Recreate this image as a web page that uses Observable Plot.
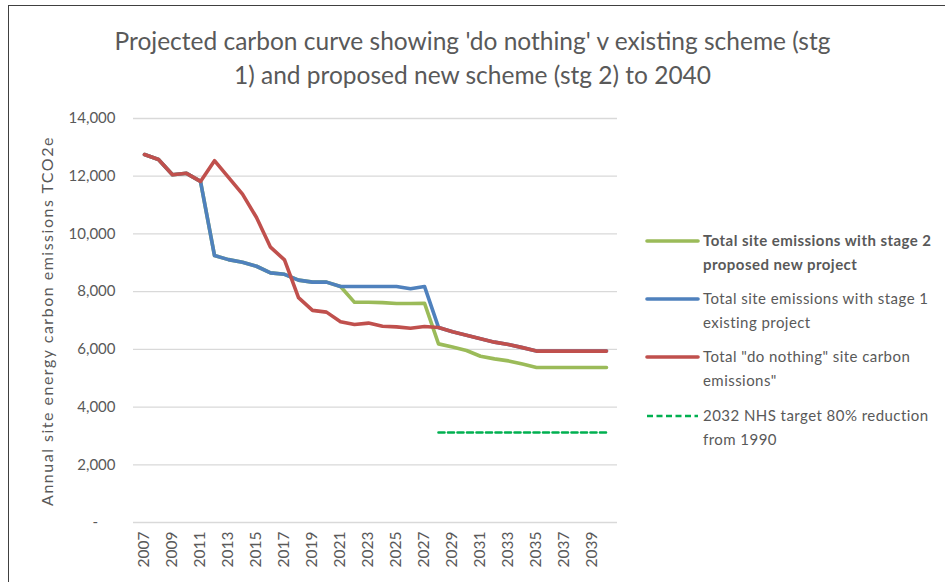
<!DOCTYPE html>
<html>
<head>
<meta charset="utf-8">
<script src="https://cdn.jsdelivr.net/npm/d3@7"></script>
<script src="https://cdn.jsdelivr.net/npm/@observablehq/plot@0.6"></script>
<style>
  html, body { margin: 0; padding: 0; background: #fff; }
  #wrap { position: relative; width: 945px; height: 582px; overflow: hidden; font-family: Lato, "Open Sans", sans-serif; color: #595959; }
  #frame { position: absolute; left: 8px; top: 5px; width: 960px; height: 600px; border-left: 1px solid #404040; border-top: 1px solid #404040; }
  #title { position: absolute; left: 0; top: 24px; width: 945px; text-align: center; font-size: 24.5px; line-height: 34px; color: #595959; }
  #ylabel { position: absolute; left: 46px; top: 321px; transform: translate(-50%, -50%) rotate(-90deg); white-space: nowrap; font-size: 16px; letter-spacing: 1.5px; color: #595959; }
  #chart { position: absolute; left: 0; top: 100px; }
  .leg { position: absolute; left: 645px; font-size: 15px; letter-spacing: 0.45px; line-height: 24px; color: #595959; }
  .leg svg { position: absolute; left: 0; top: 10px; }
  .leg span { position: absolute; left: 58px; top: 0; white-space: nowrap; }
</style>
</head>
<body>
<div id="wrap">
  <div id="frame"></div>
  <div id="title">Projected carbon curve showing 'do nothing' v existing scheme (stg<br>1) and proposed new scheme (stg 2) to 2040</div>
  <div id="ylabel">Annual site energy carbon emissions TCO2e</div>
  <div id="chart"></div>
  <div id="legend"></div>
</div>
<script>
const years = [2007,2008,2009,2010,2011,2012,2013,2014,2015,2016,2017,2018,2019,2020,2021,2022,2023,2024,2025,2026,2027,2028,2029,2030,2031,2032,2033,2034,2035,2036,2037,2038,2039,2040];
const xTickYears = [2007,2009,2011,2013,2015,2017,2019,2021,2023,2025,2027,2029,2031,2033,2035,2037,2039];
const yTicks = [0,2000,4000,6000,8000,10000,12000,14000];

const stage2Values = [12750,12580,12050,12100,11820,9250,9110,9020,8880,8650,8600,8400,8330,8330,8180,7630,7630,7620,7590,7590,7600,6190,6080,5960,5760,5670,5600,5490,5370,5370,5370,5370,5370,5370];
const stage1Values = [12750,12580,12050,12100,11820,9250,9110,9020,8880,8650,8600,8400,8330,8330,8180,8180,8180,8180,8180,8100,8180,6760,6610,6490,6370,6250,6170,6060,5940,5940,5940,5940,5940,5940];
const doNothingValues = [12750,12580,12050,12100,11820,12540,11960,11380,10570,9540,9100,7790,7350,7290,6960,6860,6910,6800,6780,6730,6790,6760,6610,6490,6370,6250,6170,6060,5940,5940,5940,5940,5940,5940];
const targetYears = [2028,2029,2030,2031,2032,2033,2034,2035,2036,2037,2038,2039,2040];
const targetValues = [3120,3120,3120,3120,3120,3120,3120,3120,3120,3120,3120,3120,3120];

const colors = ["#9BBB59", "#4F81BD", "#C0504D", "#00B050"];

const toRows = (xs, vs) => xs.map((x, i) => ({year: x, value: vs[i]}));
const s2 = toRows(years, stage2Values);
const s1 = toRows(years, stage1Values);
const dn = toRows(years, doNothingValues);
const tg = toRows(targetYears, targetValues);

const yFmt = d => d === 0 ? "-\u2007\u2007" : d3.format(",")(d);

const chart = Plot.plot({
  width: 945,
  height: 482,
  marginLeft: 133,
  marginRight: 328,
  marginTop: 18,
  marginBottom: 60,
  style: {fontFamily: "Lato, 'Open Sans', sans-serif", fontSize: "15px", color: "#595959", background: "transparent"},
  x: {type: "point", domain: years, padding: 0.5, label: null},
  y: {domain: [0, 14000], label: null},
  marks: [
    Plot.gridY(yTicks, {stroke: "#d9d9d9", strokeOpacity: 1, strokeWidth: 1.3}),
    Plot.axisX({ticks: xTickYears, tickFormat: d => String(d), tickRotate: -90, tickSize: 0, tickPadding: 9, label: null, fill: "#595959", fontSize: 15.5}),
    Plot.axisY({ticks: yTicks, tickSize: 0, tickPadding: 18, label: null, fill: "#595959", tickFormat: yFmt}),
    Plot.line(s2, {x: "year", y: "value", stroke: colors[0], strokeWidth: 3.6, strokeLinejoin: "round", strokeLinecap: "round"}),
    Plot.line(s1, {x: "year", y: "value", stroke: colors[1], strokeWidth: 3.6, strokeLinejoin: "round", strokeLinecap: "round"}),
    Plot.line(dn, {x: "year", y: "value", stroke: colors[2], strokeWidth: 3.6, strokeLinejoin: "round", strokeLinecap: "round"}),
    Plot.line(tg, {x: "year", y: "value", stroke: colors[3], strokeWidth: 2.6, strokeDasharray: "6,3.5"})
  ]
});
document.getElementById("chart").appendChild(chart);

// legend
const legendTops = [228, 286, 344, 403];
const legendLines = [
  ["Total site emissions with stage 2", "proposed new project"],
  ["Total site emissions with stage 1", "existing project"],
  ["Total \"do nothing\" site carbon", "emissions\""],
  ["2032 NHS target 80% reduction", "from 1990"]
];
const legend = document.getElementById("legend");
legendLines.forEach((lines, i) => {
  const d = document.createElement("div");
  d.className = "leg";
  d.style.top = legendTops[i] + "px";
  const dash = i === 3 ? ' stroke-dasharray="6,3.5"' : '';
  const sw = i === 3 ? 2.6 : 3.6;
  d.innerHTML = `<svg width="56" height="6"><line x1="2" y1="3" x2="53" y2="3" stroke="${colors[i]}" stroke-width="${sw}" stroke-linecap="${i===3?'butt':'round'}"${dash}/></svg>` +
    `<span style="${i===0?'font-weight:bold;':''}">${lines[0]}<br>${lines[1]}</span>`;
  legend.appendChild(d);
});
</script>
</body>
</html>
